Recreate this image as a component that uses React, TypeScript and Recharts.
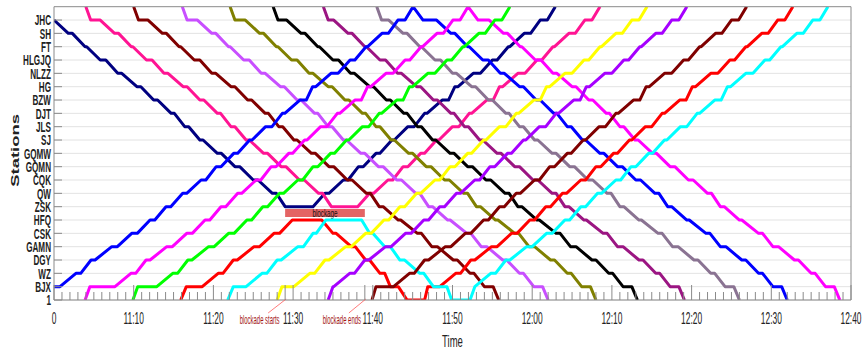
import React from 'react';
import { LineChart, Line, XAxis, YAxis, CartesianGrid, ReferenceArea, ReferenceDot } from 'recharts';

// ---------- data ----------
const STATIONS = ['1', 'BJX', 'WZ', 'DGY', 'GAMN', 'CSK', 'HFQ', 'ZSK', 'QW', 'CQK', 'GQMN', 'GQMW', 'SJ', 'JLS', 'DJT', 'BZW', 'HG', 'NLZZ', 'HLGJQ', 'FT', 'SH', 'JHC'];
const TOP_LEVEL = 22;
const X_TICKS = [0, 10, 20, 30, 40, 50, 60, 70, 80, 90, 100];
const X_TICK_LABELS = ['0', '11:10', '11:20', '11:30', '11:40', '11:50', '12:00', '12:10', '12:20', '12:30', '12:40'];
const BLOCK_START = 29;
const BLOCK_END = 39;
const BLOCK_BAND = [6.22, 6.83];

// up running pattern (minutes after BJX departure) for WZ..JHC, then the turnaround above JHC
const UP_ARR = [2.0, 3.9, 6.5, 9.0, 11.3, 13.3, 15.4, 17.7, 19.6, 21.8, 23.8, 25.8, 27.9, 30.1, 31.7, 34.0, 36.4, 38.4, 40.4, 42.4];
const UP_DEP = [2.6, 4.4, 7.2, 9.7, 11.9, 13.9, 15.9, 18.3, 20.2, 22.3, 24.1, 26.6, 28.2, 30.9, 32.1, 34.9, 37.0, 38.6, 41.2, 43.3];
const UP_TOP = 44.3;
// down running pattern (minutes after JHC departure) for SH..BJX, then the depot below BJX
const DOWN_ARR = [1.8, 3.9, 5.8, 8.0, 10.4, 12.5, 14.7, 16.4, 18.3, 20.5, 22.7, 25.0, 27.4, 29.0, 31.4, 33.8, 35.6, 38.3, 40.4, 42.2];
const DOWN_DEP = [2.3, 4.1, 6.5, 8.5, 10.9, 13.0, 15.1, 16.9, 18.7, 21.0, 23.3, 25.6, 27.9, 29.5, 31.7, 34.3, 36.3, 38.8, 40.9, 43.3];
const DOWN_BOTTOM = 44.0;

type Pt = [number, number];
type Leg = { k: 'up' | 'down'; ref: number; from: number; to: number } | { k: 'pts'; pts: Pt[] };

const NAVY: Leg[] = [{ k: 'down', ref: 0, from: 21, to: 7 }, { k: 'up', ref: 18.6, from: 7, to: 22 }];
const DEEP_PINK: Leg[] = [{ k: 'pts', pts: [[4.0, 22], [4.6, 21]] }, { k: 'down', ref: 5.8, from: 21, to: 7 }, { k: 'up', ref: 24.2, from: 7, to: 22 }];
const MAROON: Leg[] = [{ k: 'pts', pts: [[10.0, 22], [10.6, 21]] }, { k: 'down', ref: 11.8, from: 21, to: 0 }];
const VIOLET: Leg[] = [{ k: 'pts', pts: [[16.1, 22], [16.7, 21]] }, { k: 'down', ref: 18.0, from: 21, to: 0 }];
const OLIVE: Leg[] = [{ k: 'pts', pts: [[22.1, 22], [22.7, 21]] }, { k: 'down', ref: 24.0, from: 21, to: 0 }];
const BLACK: Leg[] = [{ k: 'pts', pts: [[27.5, 22], [28.1, 21]] }, { k: 'down', ref: 29.2, from: 21, to: 0 }];
const DARK_MAGENTA: Leg[] = [{ k: 'pts', pts: [[33.8, 22], [34.4, 21]] }, { k: 'down', ref: 35.1, from: 21, to: 0 }];
const GRAY: Leg[] = [{ k: 'pts', pts: [[40.5, 22], [41.1, 21]] }, { k: 'down', ref: 42.0, from: 21, to: 0 }];

const BLUE: Leg[] = [{ k: 'pts', pts: [[0, 1]] }, { k: 'up', ref: 0.75, from: 1, to: 22 }, { k: 'pts', pts: [[46.3, 21]] }, { k: 'down', ref: 48.0, from: 21, to: 0 }];
const MAGENTA: Leg[] = [{ k: 'pts', pts: [[3.9, 0], [4.5, 1]] }, { k: 'up', ref: 7.65, from: 1, to: 22 }, { k: 'pts', pts: [[53.2, 21]] }, { k: 'down', ref: 54.6, from: 21, to: 0 }];
const GREEN: Leg[] = [{ k: 'pts', pts: [[9.9, 0], [10.5, 1]] }, { k: 'up', ref: 12.9, from: 1, to: 22 }];
const RED: Leg[] = [
  { k: 'pts', pts: [[15.9, 0], [16.6, 1]] },
  { k: 'up', ref: 18.6, from: 1, to: 6 },
  { k: 'pts', pts: [[33.6, 6], [35.0, 5], [35.4, 5], [37.3, 4], [37.8, 4], [39.1, 3], [39.6, 3], [40.9, 2], [41.5, 2], [42.2, 1], [43.2, 1], [44.3, 0], [46.5, 0], [46.9, 1]] },
  { k: 'up', ref: 48.4, from: 1, to: 22 },
];
const CYAN: Leg[] = [
  { k: 'pts', pts: [[21.8, 0], [22.5, 1]] },
  { k: 'up', ref: 24.1, from: 1, to: 4 },
  { k: 'pts', pts: [[31.3, 4], [32.5, 5], [32.9, 5], [34.1, 6], [38.6, 6], [39.6, 5], [40.0, 5], [41.5, 4], [42.2, 4], [43.4, 3], [44.0, 3], [45.9, 2], [46.4, 2], [47.6, 1], [49.3, 1], [49.9, 0], [52.2, 0]] },
  { k: 'up', ref: 52.8, from: 1, to: 22 },
];
const YELLOW: Leg[] = [{ k: 'pts', pts: [[28.0, 0], [28.6, 1]] }, { k: 'up', ref: 30.1, from: 1, to: 22 }];
const PURPLE: Leg[] = [{ k: 'pts', pts: [[34.4, 0], [35.0, 1]] }, { k: 'up', ref: 35.1, from: 1, to: 22 }];
const MAROON_2: Leg[] = [{ k: 'pts', pts: [[39.9, 0], [40.4, 1]] }, { k: 'up', ref: 42.6, from: 1, to: 22 }];

const TRAIN_DEFS: { name: string; color: string; legs: Leg[] }[] = [
  { name: 'navy', color: '#000080', legs: NAVY },
  { name: 'deeppink', color: '#ff1493', legs: DEEP_PINK },
  { name: 'maroon', color: '#800000', legs: MAROON },
  { name: 'violet', color: '#c84fff', legs: VIOLET },
  { name: 'olive', color: '#808000', legs: OLIVE },
  { name: 'black', color: '#000000', legs: BLACK },
  { name: 'darkmagenta', color: '#9b1582', legs: DARK_MAGENTA },
  { name: 'gray', color: '#8a7392', legs: GRAY },
  { name: 'blue', color: '#0000ff', legs: BLUE },
  { name: 'magenta', color: '#ff00ff', legs: MAGENTA },
  { name: 'green', color: '#00ff00', legs: GREEN },
  { name: 'red', color: '#ff0000', legs: RED },
  { name: 'cyan', color: '#00ffff', legs: CYAN },
  { name: 'yellow', color: '#ffff00', legs: YELLOW },
  { name: 'purple', color: '#a600ff', legs: PURPLE },
  { name: 'maroon2', color: '#800000', legs: MAROON_2 },
];

// ---------- build paths from the timetable ----------
function upLeg(ref: number, from: number, to: number): Pt[] {
  const out: Pt[] = [];
  for (let L = from; L <= to; L++) {
    if (L === TOP_LEVEL) { out.push([ref + UP_TOP, L]); continue; }
    if (L === 1) { out.push([ref, 1]); continue; }
    if (L !== from) out.push([ref + UP_ARR[L - 2], L]);
    if (L !== to) out.push([ref + UP_DEP[L - 2], L]);
  }
  return out;
}
function downLeg(ref: number, from: number, to: number): Pt[] {
  const out: Pt[] = [];
  for (let L = from; L >= to; L--) {
    if (L === 0) { out.push([ref + DOWN_BOTTOM, 0]); continue; }
    if (L === 21) { out.push([ref, 21]); continue; }
    const i = 20 - L;
    if (L !== from) out.push([ref + DOWN_ARR[i], L]);
    if (L !== to) out.push([ref + DOWN_DEP[i], L]);
  }
  return out;
}
function buildPath(legs: Leg[]) {
  const pts: Pt[] = [];
  legs.forEach((lg) => {
    if (lg.k === 'pts') pts.push(...lg.pts);
    else if (lg.k === 'up') pts.push(...upLeg(lg.ref, lg.from, lg.to));
    else pts.push(...downLeg(lg.ref, lg.from, lg.to));
  });
  return pts.map(([t, s]) => ({ t, s }));
}
const TRAINS = TRAIN_DEFS.map((d) => ({ ...d, data: buildPath(d.legs) }));

const MINUTE_TICKS = Array.from({ length: 101 }, (_, i) => i);
const STATION_TICKS = STATIONS.map((_, i) => i);

// ---------- styling helpers ----------
const FONT = '"Liberation Sans", Arial, sans-serif';
const AXIS_GRAY = '#8a8a8a';

// condensed text: visual height of a `size` px font, horizontally squeezed by `ratio`
function CText(props: { x: number; y: number; size: number; ratio: number; anchor?: string; bold?: boolean; fill?: string; children: React.ReactNode }) {
  const { x, y, size, ratio, anchor = 'middle', bold = false, fill = '#222', children } = props;
  return (
    <text
      transform={`translate(${x},${y}) scale(1,${1 / ratio})`}
      x={0} y={0} fontSize={size * ratio} fontWeight={bold ? 'bold' : 'normal'}
      textAnchor={anchor as any} fill={fill} fontFamily={FONT}
    >
      {children}
    </text>
  );
}

function tickLen(v: number) {
  return v % 10 === 0 || v === BLOCK_START || v === BLOCK_END ? 15 : 8;
}

function BottomTick(props: any) {
  const { x, y, payload } = props;
  const v = payload.value;
  const idx = X_TICKS.indexOf(v);
  const label = idx >= 0 ? X_TICK_LABELS[idx] : null;
  return (
    <g>
      <line x1={x} x2={x} y1={y} y2={y - tickLen(v)} stroke={AXIS_GRAY} strokeWidth={1} />
      {label && <CText x={x} y={y + 24} size={16.8} ratio={0.5}>{label}</CText>}
    </g>
  );
}
function TopTick(props: any) {
  const { x, y, payload } = props;
  return <line x1={x} x2={x} y1={y} y2={y + tickLen(payload.value)} stroke={AXIS_GRAY} strokeWidth={1} />;
}
function LeftTick(props: any) {
  const { x, y, payload } = props;
  return (
    <g>
      <line x1={x} x2={x + 8} y1={y} y2={y} stroke={AXIS_GRAY} strokeWidth={1} />
      <CText x={x - 3} y={y + 5.2} size={14.5} ratio={0.56} anchor="end" bold>{STATIONS[payload.value]}</CText>
    </g>
  );
}
function RightTick(props: any) {
  const { x, y } = props;
  return <line x1={x} x2={x - 8} y1={y} y2={y} stroke={AXIS_GRAY} strokeWidth={1} />;
}
function TimeTitle(props: any) {
  const vb = props.viewBox || { x: 54, y: 300, width: 797, height: 54 };
  return <CText x={vb.x + vb.width / 2} y={vb.y + 47} size={17} ratio={0.56}>Time</CText>;
}
function StationsTitle(props: any) {
  const vb = props.viewBox || { x: 0, y: 6.7, width: 54, height: 293.3 };
  const cy = vb.y + vb.height / 2 - 3;
  return (
    <text transform={`translate(19,${cy}) scale(0.56,1) rotate(-90)`} textAnchor="middle" fontSize={18.5} fontWeight="bold" fill="#222" fontFamily={FONT}>
      Stations
    </text>
  );
}
function BlockLabel(props: any) {
  const vb = props.viewBox || { x: 285, y: 209, width: 80, height: 8 };
  return <CText x={vb.x + vb.width / 2} y={vb.y + vb.height / 2 + 3.6} size={10.5} ratio={0.6} fill="#111">blockage</CText>;
}
function StartNote(props: any) {
  const { cx, cy } = props;
  return (
    <g>
      <line x1={cx + 1} y1={cy - 1} x2={cx - 17} y2={cy + 13} stroke="#ff5a5a" strokeWidth={0.8} />
      <CText x={cx - 25.5} y={cy + 24} size={13.2} ratio={0.45} fill="#a31515">blockade starts</CText>
    </g>
  );
}
function EndNote(props: any) {
  const { cx, cy } = props;
  return (
    <g>
      <line x1={cx + 1} y1={cy - 1} x2={cx - 16} y2={cy + 13} stroke="#ff5a5a" strokeWidth={0.8} />
      <CText x={cx - 23} y={cy + 24} size={13.2} ratio={0.45} fill="#a31515">blockade ends</CText>
    </g>
  );
}

export default function App() {
  return (
    <div style={{ position: 'absolute', left: 0, top: 0, background: '#fff' }}>
      <LineChart width={865} height={354} margin={{ top: 5.7, right: 13, bottom: 0, left: 0 }}>
        <XAxis xAxisId="g" type="number" dataKey="t" domain={[0, 100]} ticks={X_TICKS} hide />
        <CartesianGrid xAxisId="g" yAxisId="l" stroke="#e3e3e3" verticalValues={X_TICKS} horizontalValues={STATION_TICKS} />
        <XAxis
          xAxisId="b" type="number" dataKey="t" domain={[0, 100]} ticks={MINUTE_TICKS} interval={0}
          height={54} tickSize={0} tickMargin={0} tickLine={false} axisLine={{ stroke: AXIS_GRAY }}
          tick={<BottomTick />} label={<TimeTitle />} allowDataOverflow
        />
        <XAxis
          xAxisId="t" orientation="top" type="number" dataKey="t" domain={[0, 100]} ticks={MINUTE_TICKS} interval={0}
          height={1} tickSize={0} tickMargin={0} tickLine={false} axisLine={{ stroke: AXIS_GRAY }} tick={<TopTick />}
        />
        <YAxis
          yAxisId="l" type="number" domain={[0, TOP_LEVEL]} ticks={STATION_TICKS} interval={0} width={54}
          tickSize={0} tickMargin={0} tickLine={false} axisLine={{ stroke: AXIS_GRAY }} tick={<LeftTick />} label={<StationsTitle />} allowDataOverflow
        />
        <YAxis
          yAxisId="r" orientation="right" type="number" domain={[0, TOP_LEVEL]} ticks={STATION_TICKS} interval={0} width={1}
          tickSize={0} tickMargin={0} tickLine={false} axisLine={{ stroke: AXIS_GRAY }} tick={<RightTick />}
        />
        <ReferenceArea
          xAxisId="b" yAxisId="l" x1={BLOCK_START} x2={BLOCK_END} y1={BLOCK_BAND[0]} y2={BLOCK_BAND[1]}
          fill="#e46464" fillOpacity={1} stroke="none" label={<BlockLabel />}
        />
        {TRAINS.map((tr) => (
          <Line
            key={tr.name} name={tr.name} xAxisId="b" yAxisId="l" data={tr.data} dataKey="s"
            type="linear" stroke={tr.color} strokeWidth={3} dot={false} activeDot={false}
            strokeLinejoin="round" isAnimationActive={false}
          />
        ))}
        <ReferenceDot xAxisId="b" yAxisId="l" x={BLOCK_START} y={0} r={0} ifOverflow="visible" shape={(p: any) => <StartNote {...p} />} />
        <ReferenceDot xAxisId="b" yAxisId="l" x={BLOCK_END} y={0} r={0} ifOverflow="visible" shape={(p: any) => <EndNote {...p} />} />
      </LineChart>
    </div>
  );
}
